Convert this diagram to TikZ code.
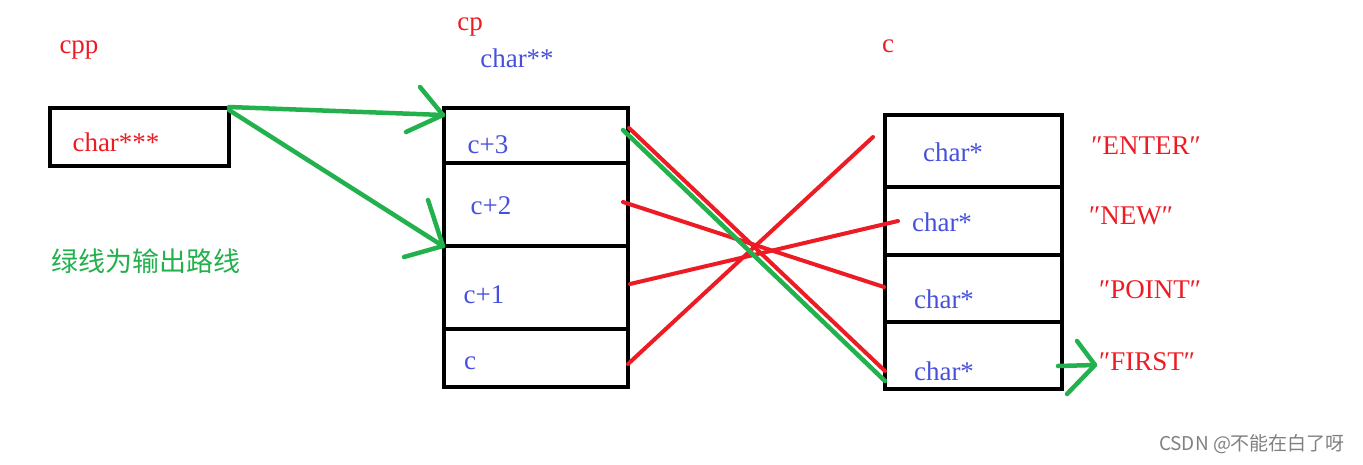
\documentclass[tikz,border=0pt]{standalone}
\usepackage{fontspec}
\setmainfont{Liberation Serif}
\newfontfamily\cjk{Noto Sans CJK SC}
\definecolor{pred}{RGB}{237,28,36}
\definecolor{pgreen}{RGB}{34,177,76}
\definecolor{pblue}{RGB}{70,80,220}
\begin{document}
\begin{tikzpicture}[x=1pt,y=-1pt,
  cell/.style={draw=black, line width=4pt, inner sep=0pt, outer sep=0pt, anchor=north west},
  lbl/.style={inner sep=0pt, font=\fontsize{27}{29}\selectfont},
  redtxt/.style={lbl, text=pred},
  bluetxt/.style={lbl, text=pblue},
  redline/.style={draw=pred, line width=4pt, line cap=round},
  greenline/.style={draw=pgreen, line width=4.5pt, line cap=round, line join=round}]
\useasboundingbox (0,0) rectangle (1363,464);

% cpp
\node[redtxt] (cpplbl) at (79,50) {cpp};
\node[cell, minimum width=179pt, minimum height=58pt] (cppbox) at (50,108) {};
\node[redtxt] (cppt) at (116,142) {char***};

% cp
\node[redtxt] (cplbl) at (470,27) {cp};
\node[bluetxt] (cptype) at (517,58) {char**};
\node[cell, minimum width=184pt, minimum height=55pt] (cp3) at (444,108) {};
\node[cell, minimum width=184pt, minimum height=83pt] (cp2) at (444,163) {};
\node[cell, minimum width=184pt, minimum height=83pt] (cp1) at (444,246) {};
\node[cell, minimum width=184pt, minimum height=58pt] (cp0) at (444,329) {};
\node[bluetxt] (t3) at (488,145) {c+3};
\node[bluetxt] (t2) at (491,206) {c+2};
\node[bluetxt] (t1) at (484,295) {c+1};
\node[bluetxt] (t0) at (470,363) {c};

% c
\node[redtxt] (clbl) at (888,46) {c};
\node[cell, minimum width=177pt, minimum height=72pt] (ca) at (885,115) {};
\node[cell, minimum width=177pt, minimum height=68pt] (cb) at (885,187) {};
\node[cell, minimum width=177pt, minimum height=67pt] (cc) at (885,255) {};
\node[cell, minimum width=177pt, minimum height=67pt] (cd) at (885,322) {};
\node[bluetxt] (sa) at (953,152) {char*};
\node[bluetxt] (sb) at (942,222) {char*};
\node[bluetxt] (sc) at (944,299) {char*};
\node[bluetxt] (sd) at (944,371) {char*};
\node[redtxt] (ea) at (1146,146) {″ENTER″};
\node[redtxt] (eb) at (1131,216) {″NEW″};
\node[redtxt] (ec) at (1150,290) {″POINT″};
\node[redtxt] (ed) at (1147,362) {″FIRST″};

% note
\node[inner sep=0pt, text=pgreen, font=\cjk\fontsize{27}{29}\selectfont] (note) at (146,261) {绿线为输出路线};

% coordinates
\coordinate (g1s) at (229,107);
\coordinate (g1t) at (443,115);
\coordinate (g1a) at (420,87);
\coordinate (g1b) at (406,132);
\coordinate (g2s) at (229,110);
\coordinate (g2t) at (443,246);
\coordinate (g2a) at (428,200);
\coordinate (g2b) at (404,257);

\coordinate (r1s) at (629,128);
\coordinate (r1e) at (885,371);
\coordinate (gxs) at (623,130);
\coordinate (gxe) at (885,381);
\coordinate (r2s) at (623,202);
\coordinate (r2e) at (884,287);
\coordinate (r3s) at (630,284);
\coordinate (r3e) at (898,221);
\coordinate (r4s) at (628,364);
\coordinate (r4e) at (873,137);

\coordinate (g3s) at (1058,366);
\coordinate (g3t) at (1095,365);
\coordinate (g3a) at (1077,341);
\coordinate (g3b) at (1067,394);

% red connectors
\draw[redline] (r1s) -- (r1e);
\draw[redline] (r2s) -- (r2e);
\draw[redline] (r3s) -- (r3e);
\draw[redline] (r4s) -- (r4e);
% green connectors
\draw[greenline] (gxs) -- (gxe);
\draw[greenline] (g1s) -- (g1t);
\draw[greenline] (g1a) -- (g1t) -- (g1b);
\draw[greenline] (g2s) -- (g2t);
\draw[greenline] (g2a) -- (g2t) -- (g2b);
\draw[greenline] (g3s) -- (g3t);
\draw[greenline] (g3a) -- (g3t) -- (g3b);

% watermark
\node[inner sep=0pt, text=black!50, font=\cjk\fontsize{19}{21}\selectfont] (wm) at (1252,444) {CSDN @不能在白了呀};
\end{tikzpicture}
\end{document}
